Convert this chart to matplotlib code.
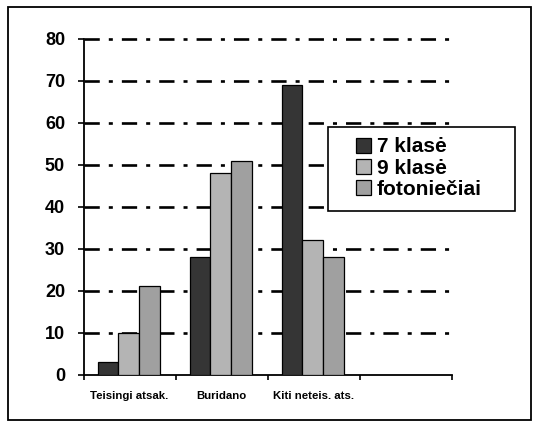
import matplotlib
matplotlib.use("Agg")
import matplotlib.pyplot as plt
import numpy as np
from matplotlib.patches import Rectangle

plt.rcParams['font.family'] = ['Liberation Sans', 'DejaVu Sans']
plt.rcParams['lines.scale_dashes'] = False

categories = ['Teisingi atsak.', 'Buridano', 'Kiti neteis. ats.', '']
series_names = ['7 klasė', '9 klasė', 'fotoniečiai']
values_7 = [3, 28, 69]
values_9 = [10, 48, 32]
values_foto = [21, 51, 28]
colors = ['#353535', '#b4b4b4', '#a0a0a0']
y_ticks = [0, 10, 20, 30, 40, 50, 60, 70, 80]

W, H = 536, 421
fig = plt.figure(figsize=(W / 100, H / 100), dpi=100)


def px_box(x0, y0, x1, y1):
    # pixel box (top-left origin) -> figure fraction [left, bottom, w, h]
    return [x0 / W, 1 - y1 / H, (x1 - x0) / W, (y1 - y0) / H]


# outer frame
l, b, w, h = px_box(8, 7, 531, 420)
fig.patches.append(Rectangle((l, b), w, h, transform=fig.transFigure,
                             fill=False, edgecolor='black', linewidth=1.3))

ax = fig.add_axes(px_box(83.5, 39, 452, 374.5))

bar_w = 0.225
offset = 0.152
series = [values_7, values_9, values_foto]
for j, (name, vals, col) in enumerate(zip(series_names, series, colors)):
    x = np.arange(len(vals)) + offset + j * bar_w
    ax.bar(x, vals, width=bar_w, align='edge', color=col, edgecolor='black',
           linewidth=0.9, label=name, zorder=3)

ax.set_xlim(0, len(categories))
ax.set_ylim(0, 80)
ax.set_yticks(y_ticks)
ax.set_yticklabels([str(t) for t in y_ticks], fontsize=13, fontweight='bold')

# category boundaries as ticks, labels at centres
ax.set_xticks(np.arange(len(categories) + 1))
ax.set_xticklabels([])
ax.set_xticks(np.arange(len(categories)) + 0.5, minor=True)
ax.set_xticklabels(categories, minor=True, fontsize=8.2, fontweight='bold')
ax.tick_params(axis='x', which='minor', length=0, pad=12)
ax.tick_params(axis='x', which='major', direction='out', length=3.5, width=1.2)
ax.tick_params(axis='y', direction='out', length=4.3, width=1.2, pad=9)

for t in y_ticks[1:]:
    ax.axhline(t, color='black', linewidth=1.9,
               linestyle=(0, (11, 6.5, 2.9, 6.5)), zorder=1, clip_on=False)

for s in ['top', 'right']:
    ax.spines[s].set_visible(False)
for s in ['left', 'bottom']:
    ax.spines[s].set_linewidth(1.3)

# legend box drawn by hand, entries placed inside it
l, b, w, h = px_box(327.5, 127, 515, 211)
ax.add_patch(Rectangle((l, b), w, h, transform=fig.transFigure, clip_on=False,
                       facecolor='white', edgecolor='black', linewidth=1.2,
                       zorder=4))
leg = ax.legend(loc='center left', bbox_to_anchor=(356 / W, 1 - 168 / H),
                bbox_transform=fig.transFigure, frameon=False,
                prop={'size': 15, 'weight': 'bold'}, handlelength=0.72,
                handleheight=0.72, handletextpad=0.27, borderpad=0,
                labelspacing=0.1, borderaxespad=0)
leg.set_zorder(5)

fig.savefig('out.png', dpi=100)
